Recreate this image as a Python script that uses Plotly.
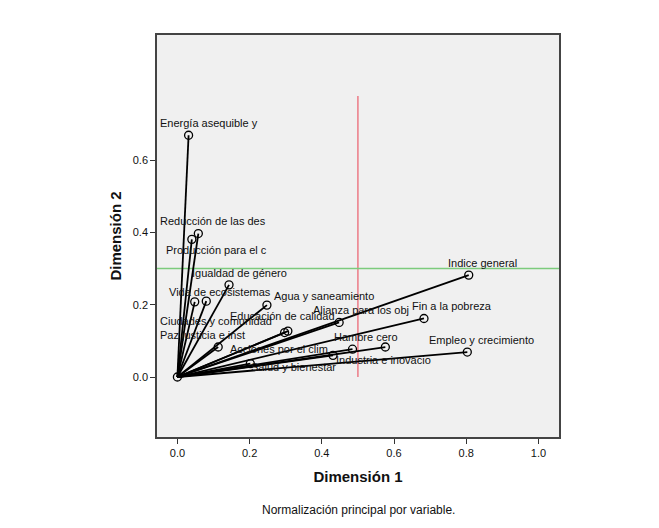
import plotly.graph_objects as go

# component loadings
names = ["Fin a la pobreza", "Hambre cero", "Salud y bienestar", "Educación de calidad",
         "Igualdad de género", "Agua y saneamiento", "Energía asequible y",
         "Empleo y crecimiento", "Industria e inovacio", "Reducción de las des",
         "Ciudades y comunidad", "Producción para el c", "Acciones por el clim",
         "Vida submarina", "Vida de ecosistemas", "Paz justicia e inst",
         "Alianza para los obj", "Indice general"]
dim1 = [0.683, 0.576, 0.202, 0.306, 0.143, 0.248, 0.031, 0.803, 0.431, 0.058,
        0.048, 0.040, 0.485, 0.297, 0.080, 0.113, 0.448, 0.807]
dim2 = [0.162, 0.083, 0.037, 0.127, 0.255, 0.199, 0.669, 0.069, 0.060, 0.397,
        0.208, 0.381, 0.077, 0.123, 0.210, 0.083, 0.151, 0.282]
show_label = [True] * 18
show_label[13] = False  # hidden under other labels in the original

# where SPSS put each label (left edge, middle) after its overlap shuffling
label_pos = {
    "Fin a la pobreza": (0.644, 0.196),
    "Hambre cero": (0.428, 0.111),
    "Salud y bienestar": (0.198, 0.028),
    "Educación de calidad": (0.139, 0.168),
    "Igualdad de género": (0.034, 0.289),
    "Agua y saneamiento": (0.262, 0.224),
    "Energía asequible y": (-0.055, 0.704),
    "Empleo y crecimiento": (0.690, 0.103),
    "Industria e inovacio": (0.434, 0.048),
    "Reducción de las des": (-0.055, 0.431),
    "Ciudades y comunidad": (-0.055, 0.154),
    "Producción para el c": (-0.037, 0.351),
    "Acciones por el clim": (0.139, 0.077),
    "Vida de ecosistemas": (-0.030, 0.235),
    "Paz justicia e inst": (-0.055, 0.115),
    "Alianza para los obj": (0.369, 0.185),
    "Indice general": (0.745, 0.316),
}

ref_x = 0.5
ref_y = 0.3

fig = go.Figure()

# reference lines
fig.add_trace(go.Scatter(x=[ref_x, ref_x], y=[0.0, 0.778], mode="lines",
                         line=dict(color="#ec7b86", width=1.5), hoverinfo="skip"))
fig.add_trace(go.Scatter(x=[-0.06, 1.06], y=[ref_y, ref_y], mode="lines",
                         line=dict(color="#7ccb7c", width=1.5), hoverinfo="skip"))

# vectors from origin
vx, vy = [], []
for a, b in zip(dim1, dim2):
    vx += [0, a, None]
    vy += [0, b, None]
fig.add_trace(go.Scatter(x=vx, y=vy, mode="lines",
                         line=dict(color="black", width=1.8), hoverinfo="skip"))

fig.add_trace(go.Scatter(x=dim1 + [0], y=dim2 + [0], mode="markers",
                         marker=dict(symbol="circle-open", size=8, color="black",
                                     line=dict(width=1.3)),
                         text=names + ["origen"]))

for n, s in zip(names, show_label):
    if not s:
        continue
    lx, ly = label_pos[n]
    fig.add_annotation(x=lx, y=ly, text=n, showarrow=False, xanchor="left",
                       yanchor="middle", font=dict(size=11, color="#111"))

fig.add_annotation(x=0.5, y=-0.203, xref="paper", yref="paper",
                   text="Normalización principal por variable.", showarrow=False,
                   font=dict(size=12, color="#111"))

fig.update_layout(
    width=659, height=528,
    margin=dict(l=149, r=108, t=27, b=99),
    paper_bgcolor="white", plot_bgcolor="#f0f0f0",
    showlegend=False,
    font=dict(family="Liberation Sans, Arial", size=11, color="#111"),
    xaxis=dict(range=[-0.0565, 1.057], tickvals=[0, 0.2, 0.4, 0.6, 0.8, 1.0],
               tickformat=".1f", ticks="outside", ticklen=5, tickcolor="#333",
               showgrid=False, zeroline=False, showline=True, linecolor="#444",
               linewidth=1.5, mirror=True,
               title=dict(text="<b>Dimensión 1</b>", font=dict(size=15), standoff=14)),
    yaxis=dict(range=[-0.166, 0.9465], tickvals=[0, 0.2, 0.4, 0.6],
               tickformat=".1f", ticks="outside", ticklen=5, tickcolor="#333",
               showgrid=False, zeroline=False, showline=True, linecolor="#444",
               linewidth=1.5, mirror=True,
               title=dict(text="<b>Dimensión 2</b>", font=dict(size=15), standoff=8)),
)

fig.write_html("out.html")
